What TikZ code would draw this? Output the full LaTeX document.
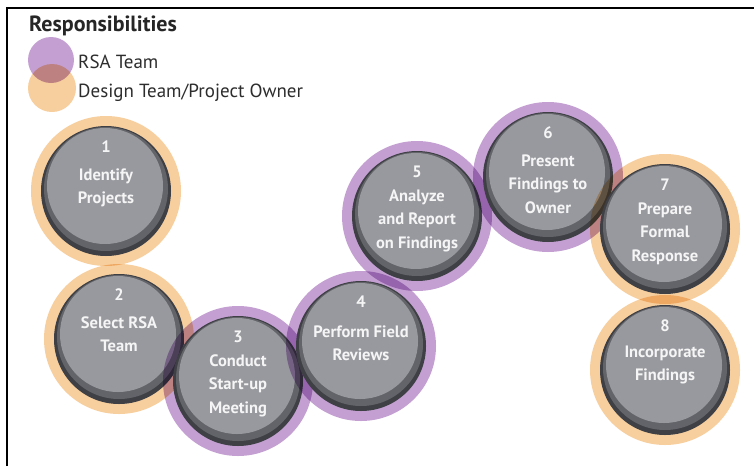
\documentclass[tikz,border=0pt]{standalone}
\usepackage{fontspec}
\setmainfont{PT Sans}
\definecolor{ringP}{RGB}{196,160,210}
\definecolor{ringO}{RGB}{247,207,158}
\definecolor{btnDark}{RGB}{62,64,70}
\definecolor{btnMid}{RGB}{98,100,106}
\definecolor{btnFace}{RGB}{152,153,159}
\definecolor{legtext}{RGB}{45,45,45}
\tikzset{
  ring/.style={circle, inner sep=0pt, minimum size=150pt},
  btndark/.style={circle, inner sep=0pt, fill=btnDark, minimum size=130pt},
  btnmid/.style={circle, inner sep=0pt, fill=btnMid, minimum size=124pt},
  btnface/.style={circle, inner sep=0pt, fill=btnFace, minimum size=116pt},
  steptext/.style={inner sep=0pt, align=center, text=white!96!black, font=\bfseries\fontsize{16.5}{23.5}\selectfont},
  legtxt/.style={inner sep=0pt, anchor=base west, text=legtext, font=\fontsize{19}{22}\selectfont},
}
\newcommand\rsastep[5]{%
  \begin{scope}[blend mode=multiply]
    \node[ring, fill=#4] (#1r) at (#2,#3) {};
  \end{scope}
  \node[btndark] (#1d) at (#2,#3) {};
  \node[btnmid] (#1m) at (#2,#3-2) {};
  \node[btnface] (#1f) at (#2-1,#3-5) {};
  \node[steptext, anchor=north] (#1t) at (#2,#3-50) {#5};
}
\begin{document}
\begin{tikzpicture}[x=1pt,y=-1pt]
\useasboundingbox (0,0) rectangle (754,466);
\fill[white] (0,0) rectangle (754,466);
\draw[line width=2.5pt] (7,466) -- (7,8) -- (754,8);
% legend
\begin{scope}[blend mode=multiply]
  \node[circle, inner sep=0pt, fill=ringP, minimum size=46pt] (legP) at (51,60) {};
  \node[circle, inner sep=0pt, fill=ringO, minimum size=48pt] (legO) at (52,88) {};
\end{scope}
\node[inner sep=0pt, anchor=base west, text=black!85, font=\bfseries\fontsize{22}{24}\selectfont] (title) at (29,31) {Responsibilities};
\node[legtxt] (legPt) at (78,68) {RSA Team};
\node[legtxt] (legOt) at (78,97) {Design Team/Project Owner};
% steps
\rsastep{s1}{106}{191}{ringO}{1\\[4pt]Identify\\Projects}
\rsastep{s2}{119}{339}{ringO}{2\\[4pt]Select RSA\\Team}
\rsastep{s3}{238}{381}{ringP}{3\\[0pt]Conduct\\Start-up\\Meeting}
\rsastep{s4}{361}{346}{ringP}{4\\[6pt]Perform Field\\Reviews}
\rsastep{s5}{417}{216}{ringP}{5\\[0pt]Analyze\\and Report\\on Findings}
\rsastep{s6}{548}{177}{ringP}{6\\[4pt]Present\\Findings to\\Owner}
\rsastep{s7}{665}{229}{ringO}{7\\[0pt]Prepare\\Formal\\Response}
\rsastep{s8}{665}{370}{ringO}{8\\[2pt]Incorporate\\Findings}
\end{tikzpicture}
\end{document}
